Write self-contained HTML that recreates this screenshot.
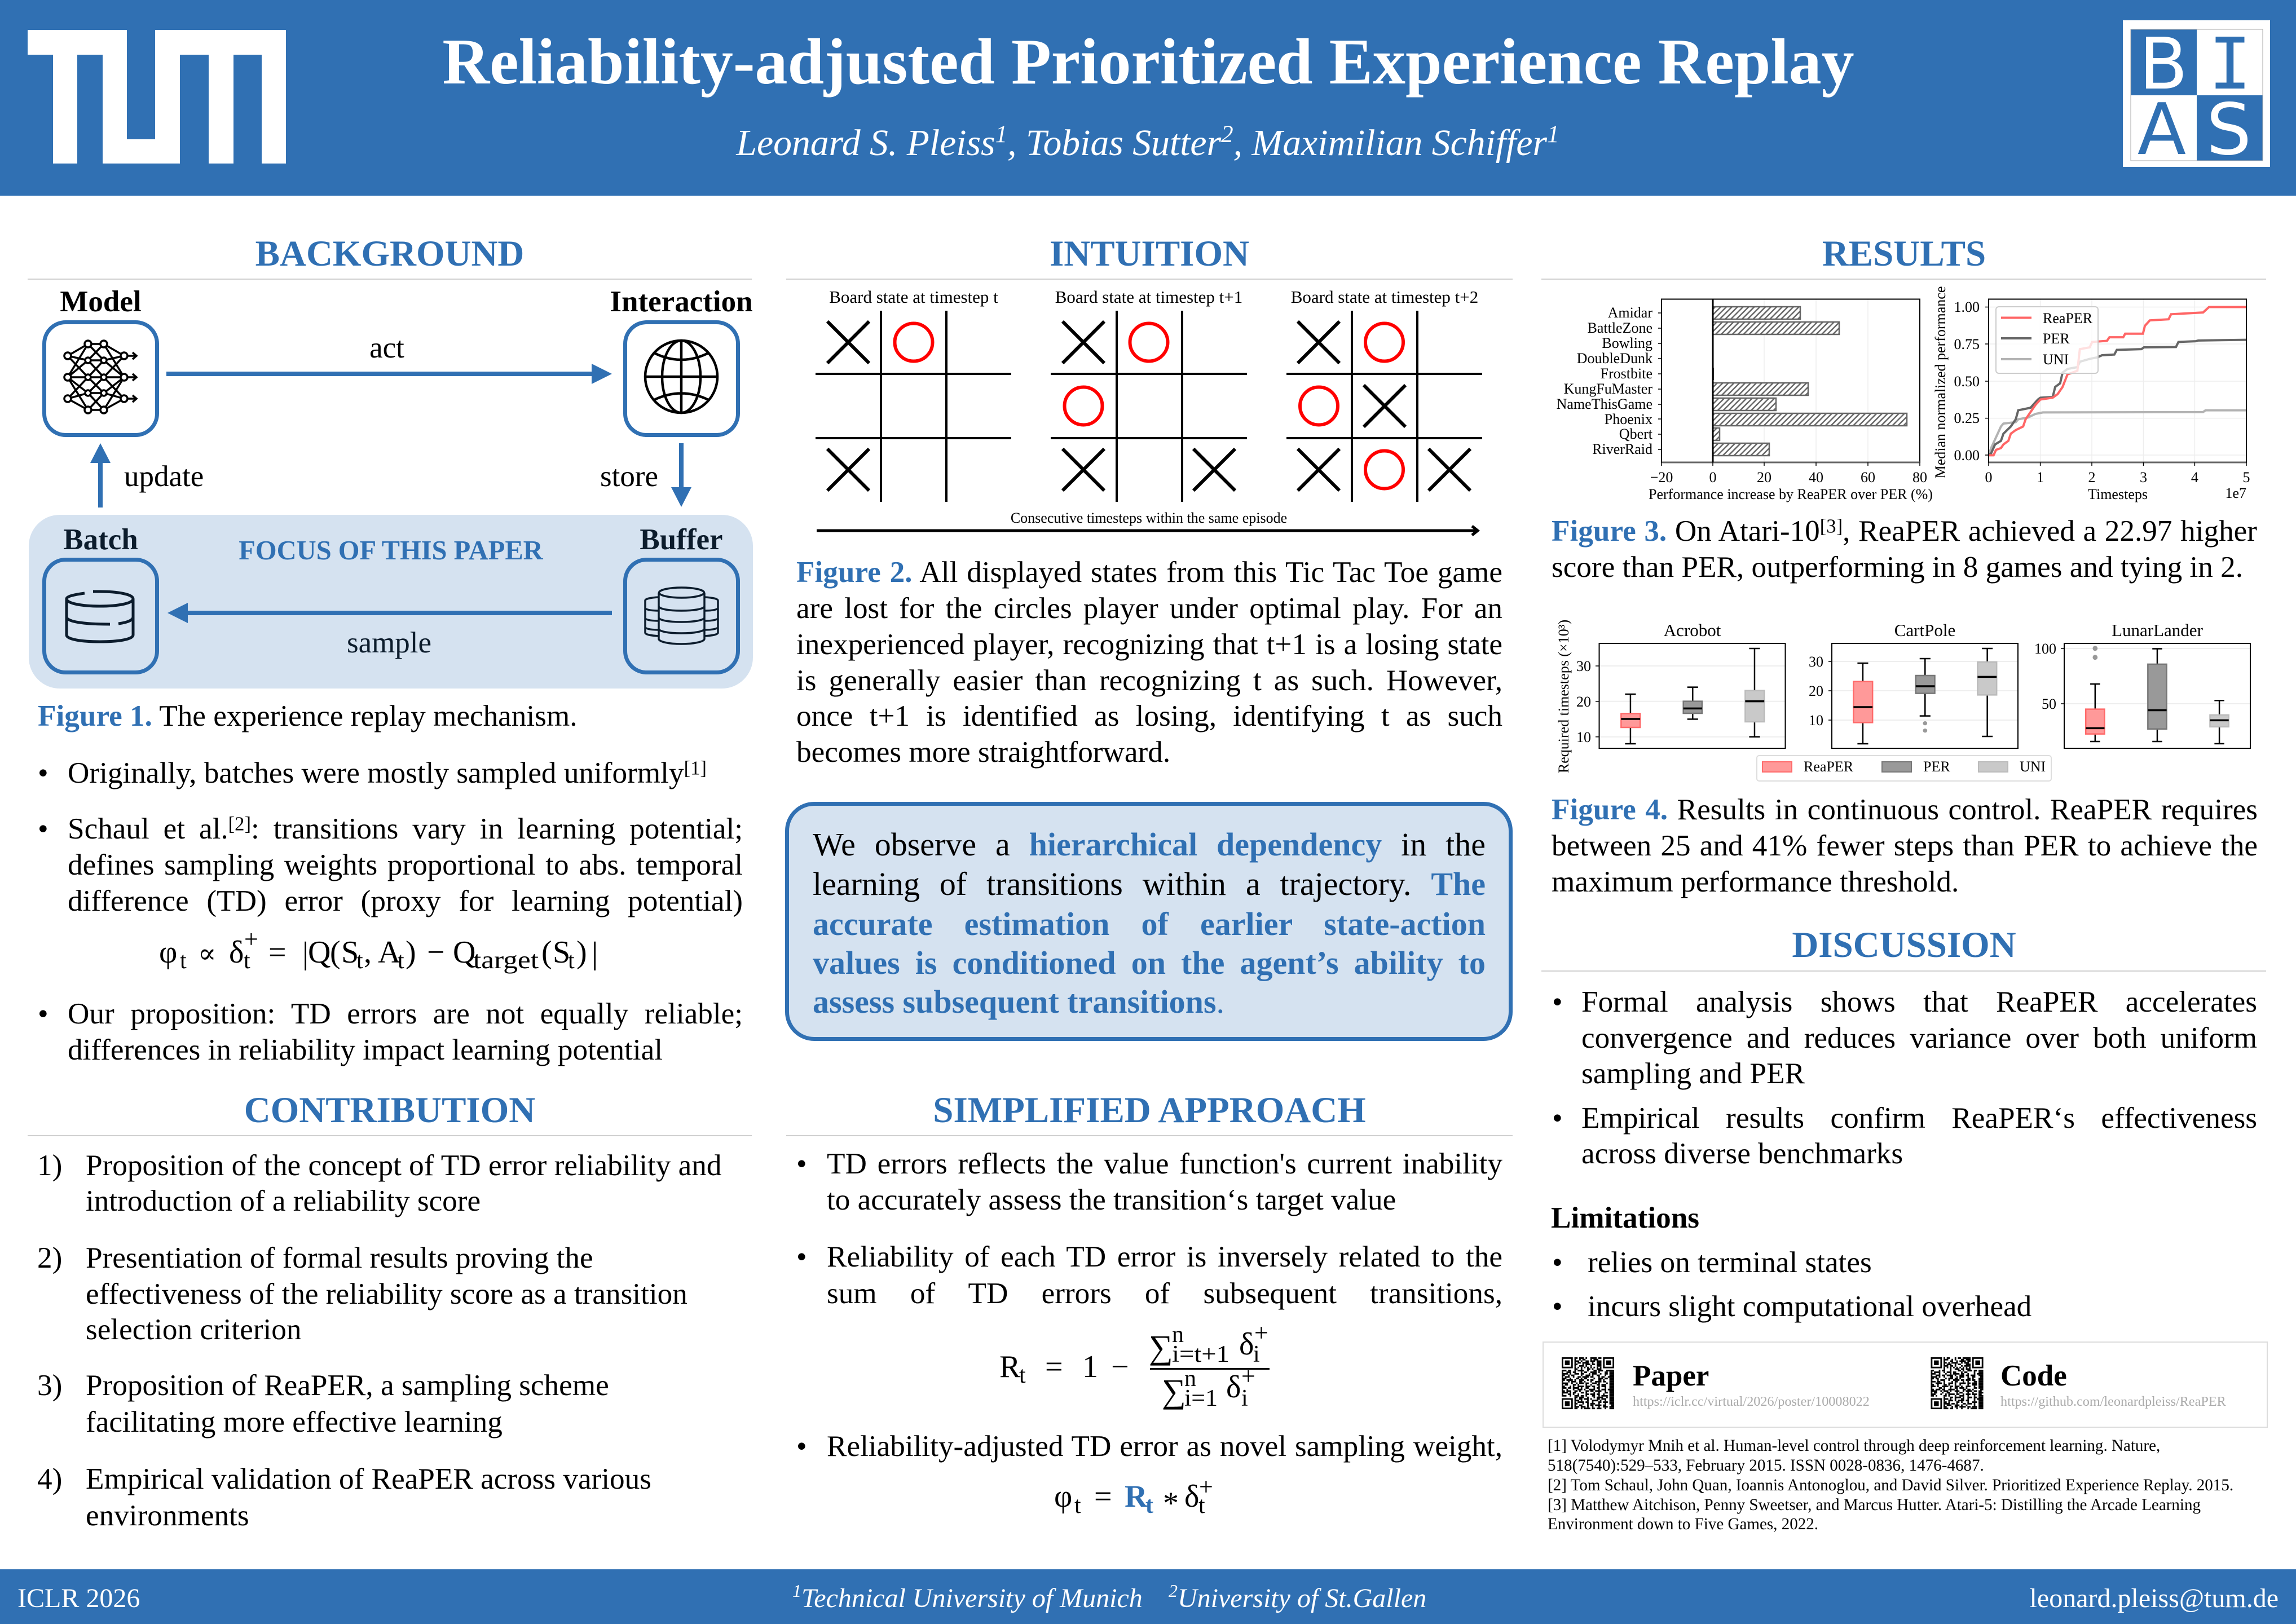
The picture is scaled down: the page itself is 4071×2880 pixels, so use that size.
<!DOCTYPE html>
<html><head><meta charset="utf-8"><title>Reliability-adjusted Prioritized Experience Replay</title>
<style>
html,body{margin:0;padding:0;background:#fff}
#p{position:relative;width:4071px;height:2880px;overflow:hidden;background:#fff;font-family:"Liberation Serif",serif;color:#000}
svg{position:absolute;left:0;top:0}
svg text{font-family:"Liberation Serif",serif}
.t{position:absolute;font-size:53.2px;line-height:64px;height:64px;white-space:nowrap;margin-top:2.5px}
.j{white-space:normal;text-align:justify;text-align-last:justify}
.c{font-size:58px;line-height:70px;height:70px}
b.u,.u{color:#3070B3;font-weight:bold}
sup{font-size:.65em;line-height:0;vertical-align:.42em}
.v{vector-effect:non-scaling-stroke}
</style></head><body><div id="p">
<svg width="4071" height="2880" viewBox="0 0 4071 2880" xmlns="http://www.w3.org/2000/svg">
<defs>
<pattern id="h" width="7" height="7" patternUnits="userSpaceOnUse" patternTransform="rotate(45)"><rect width="7" height="7" fill="#fff"/><rect width="2.500" height="7" fill="#666"/></pattern>
</defs>
<!-- header / footer -->
<rect x="0" y="0" width="4071" height="347" fill="#3070B3"/>
<rect x="0" y="2783" width="4071" height="97" fill="#3070B3"/>
<path fill="#fff" d="M49 53H225V247H275V53H507V290H464V97H414V290H370V97H319V290H182V97H137V290H94V97H49Z"/>
<rect x="3764" y="36" width="261" height="260" fill="#fff"/>
<rect x="3778" y="52" width="117" height="117" fill="#3070B3"/>
<rect x="3895" y="169" width="117" height="116" fill="#3070B3"/>
<rect x="3778" y="52" width="234" height="233" fill="none" stroke="#aaa" stroke-width="1"/>
<g style="font-size:126px" text-anchor="middle">
<text x="3836" y="157" fill="#fff" style="font-family:'DejaVu Sans',sans-serif">B</text>
<text x="3954" y="157" fill="#3070B3" style="font-family:'DejaVu Sans Mono',monospace">I</text>
<text x="3833" y="273" fill="#3070B3" style="font-family:'DejaVu Sans',sans-serif">A</text>
<text x="3952" y="273" fill="#fff" style="font-family:'DejaVu Sans',sans-serif">S</text>
</g>
<text x="2036" y="148" text-anchor="middle" font-size="116" font-weight="bold" fill="#fff">Reliability-adjusted Prioritized Experience Replay</text>
<text x="2035" y="275" text-anchor="middle" font-size="65.700" font-style="italic" fill="#fff">Leonard S. Pleiss<tspan font-size="43" dy="-23">1</tspan><tspan dy="23">, Tobias Sutter</tspan><tspan font-size="43" dy="-23">2</tspan><tspan dy="23">, Maximilian Schiffer</tspan><tspan font-size="43" dy="-23">1</tspan></text>
<text x="31" y="2850" font-size="48" fill="#fff">ICLR 2026</text>
<text x="4040" y="2850" font-size="48" fill="#fff" text-anchor="end">leonard.pleiss@tum.de</text>
<text x="1405" y="2850" font-size="48" font-style="italic" fill="#fff"><tspan font-size="32" dy="-18">1</tspan><tspan dy="18">Technical University of Munich</tspan><tspan x="2072" font-size="32" dy="-18">2</tspan><tspan dy="18">University of St.Gallen</tspan></text>

<!-- headings -->
<g font-size="65" font-weight="bold" fill="#3070B3" text-anchor="middle">
<text x="691" y="471">BACKGROUND</text>
<text x="2038" y="471">INTUITION</text>
<text x="3376" y="471">RESULTS</text>
<text x="691" y="1990">CONTRIBUTION</text>
<text x="2038" y="1990">SIMPLIFIED APPROACH</text>
<text x="3376" y="1697">DISCUSSION</text>
</g>
<g fill="#d0d0d0">
<rect x="49" y="494" width="1284" height="2"/><rect x="1394" y="494" width="1288" height="2"/><rect x="2733" y="494" width="1285" height="2"/>
<rect x="49" y="2013" width="1284" height="2"/><rect x="1394" y="2013" width="1288" height="2"/><rect x="2733" y="1721" width="1285" height="2"/>
</g>

<!-- Figure 1 -->
<rect x="51" y="913" width="1284" height="308" rx="55" fill="#D5E2F0"/>
<g fill="none" stroke="#3070B3" stroke-width="7">
<rect x="78.5" y="571.5" width="200" height="200" rx="38"/>
<rect x="1108.5" y="571.5" width="200" height="200" rx="38"/>
<rect x="78.5" y="992.5" width="200" height="200" rx="38"/>
<rect x="1108.5" y="992.5" width="200" height="200" rx="38"/>
</g>
<g fill="#3070B3">
<rect x="295" y="659" width="756" height="8"/><path d="M1049 645L1085 663L1049 681Z"/>
<rect x="174" y="820" width="8" height="80"/><path d="M160 821L178 786L196 821Z"/>
<rect x="1204" y="786" width="8" height="80"/><path d="M1190 864L1208 899L1226 864Z"/>
<rect x="331" y="1083" width="754" height="8"/><path d="M333 1069L297 1087L333 1105Z"/>
</g>
<g font-size="53" font-weight="bold" text-anchor="middle">
<text x="178.5" y="552">Model</text><text x="1208" y="552">Interaction</text>
<text x="178.5" y="974" fill="#0c1c2c">Batch</text><text x="1208" y="974" fill="#0c1c2c">Buffer</text>
</g>
<text x="693" y="992" font-size="48.500" font-weight="bold" fill="#3070B3" text-anchor="middle">FOCUS OF THIS PAPER</text>
<g font-size="53">
<text x="686" y="634" text-anchor="middle">act</text>
<text x="220" y="862">update</text>
<text x="1064" y="862">store</text>
<text x="690" y="1157" text-anchor="middle" fill="#0c1c2c">sample</text>
</g>
<!-- NN icon -->
<g stroke="#000" stroke-width="3.5" fill="none">
<path d="M120 631L156 610M120 631L156 639M120 631L156 669M120 669L156 610M120 669L156 639M120 669H220M120 669L156 697M120 669L156 727M120 707L156 669M120 707L156 697M120 707L156 727M156 610H184M156 610L184 639M156 639L184 610M156 639H184M156 639L184 669M156 669L184 639M156 669L184 697M156 697L184 669M156 697H184M156 697L184 727M156 727L184 697M156 727H184M220 631L184 610M220 631L184 639M220 631L184 669M220 669L184 610M220 669L184 639M220 669L184 697M220 669L184 727M220 707L184 669M220 707L184 697M220 707L184 727M220 631H241M220 669H241M220 707H241M235 625L242 631L235 637M235 663L242 669L235 675M235 701L242 707L235 713"/>
<g fill="#fff">
<circle cx="120" cy="631" r="6"/><circle cx="120" cy="669" r="6"/><circle cx="120" cy="707" r="6"/>
<circle cx="156" cy="610" r="6"/><circle cx="156" cy="639" r="5"/><circle cx="156" cy="669" r="5"/><circle cx="156" cy="697" r="5"/><circle cx="156" cy="727" r="6"/>
<circle cx="184" cy="610" r="6"/><circle cx="184" cy="639" r="5"/><circle cx="184" cy="669" r="5"/><circle cx="184" cy="697" r="5"/><circle cx="184" cy="727" r="6"/>
<circle cx="220" cy="631" r="6"/><circle cx="220" cy="669" r="6"/><circle cx="220" cy="707" r="6"/>
</g></g>
<!-- globe -->
<g stroke="#000" stroke-width="4.5" fill="none">
<circle cx="1208" cy="668" r="64"/><ellipse cx="1208" cy="668" rx="34" ry="64"/>
<path d="M1208 604V732M1144 668H1272M1160 626Q1208 650 1256 626M1160 709Q1208 686 1256 709"/>
</g>
<!-- batch DB -->
<g stroke="#0c1c2c" stroke-width="5" fill="none">
<path d="M150 1052C128 1055 118 1058 118 1062C118 1070 145 1075 177 1075C209 1075 236 1070 236 1062C236 1054 209 1049 177 1049H165"/>
<path d="M118 1062V1126C118 1134 145 1138 177 1138C209 1138 236 1134 236 1126V1062"/>
<path d="M118 1094C118 1102 145 1107 195 1107M210 1106C225 1104 236 1100 236 1094"/>
</g>
<!-- buffer DB -->
<g stroke="#0c1c2c" stroke-width="3.5" fill="none">
<ellipse cx="1208.500" cy="1051" rx="40" ry="9"/>
<path d="M1168 1051V1133C1168 1138 1186 1142 1208 1142C1230 1142 1249 1138 1249 1133V1051M1168 1075C1168 1080 1186 1083 1208 1083C1230 1083 1249 1080 1249 1075M1168 1095C1168 1100 1186 1103 1208 1103C1230 1103 1249 1100 1249 1095M1168 1115C1168 1120 1186 1123 1208 1123C1230 1123 1249 1120 1249 1115"/>
<path d="M1168 1059C1152 1060 1144 1062 1144 1065V1122C1144 1125 1152 1127 1168 1128M1249 1059C1265 1060 1273 1062 1273 1065V1122C1273 1125 1265 1127 1249 1128M1144 1079C1148 1082 1158 1083 1168 1083M1144 1097C1148 1100 1158 1101 1168 1101M1144 1113C1148 1116 1158 1117 1168 1117M1273 1079C1269 1082 1259 1083 1249 1083M1273 1097C1269 1100 1259 1101 1249 1101M1273 1113C1269 1116 1259 1117 1249 1117"/>
</g>

<!-- Figure 2 boards -->
<g font-size="31" text-anchor="middle">
<text x="1620" y="537">Board state at timestep t</text>
<text x="2037" y="537">Board state at timestep t+1</text>
<text x="2455" y="537">Board state at timestep t+2</text>
</g>
<g stroke="#000" stroke-width="4" fill="none">
<path d="M1562 551V890M1678 551V890M1446 663H1793M1446 777H1793"/>
<path d="M1980 551V890M2096 551V890M1863 663H2211M1863 777H2211"/>
<path d="M2397 551V890M2513 551V890M2281 663H2628M2281 777H2628"/>
</g>
<g stroke="#000" stroke-width="6" fill="none">
<path d="M1467 570L1541 644M1541 570L1467 644"/>
<path d="M1467 796L1541 870M1541 796L1467 870"/>
<path d="M1884 570L1958 644M1958 570L1884 644"/>
<path d="M1884 796L1958 870M1958 796L1884 870"/>
<path d="M2116 796L2190 870M2190 796L2116 870"/>
<path d="M2301 570L2375 644M2375 570L2301 644"/>
<path d="M2418 683L2492 757M2492 683L2418 757"/>
<path d="M2301 796L2375 870M2375 796L2301 870"/>
<path d="M2533 796L2607 870M2607 796L2533 870"/>
</g>
<g stroke="#f00" stroke-width="6" fill="none">
<circle cx="1620" cy="607" r="33.500"/>
<circle cx="2037" cy="607" r="33.500"/><circle cx="1921" cy="720" r="33.500"/>
<circle cx="2454.500" cy="607" r="33.500"/><circle cx="2338.500" cy="720" r="33.500"/><circle cx="2454.500" cy="833" r="33.500"/>
</g>
<text x="2037" y="927" font-size="26" text-anchor="middle">Consecutive timesteps within the same episode</text>
<path d="M1448 941H2618M2610 933L2620 941L2610 949" stroke="#000" stroke-width="5" fill="none"/>

<!-- Callout -->
<rect x="1395.500" y="1425.500" width="1283" height="417" rx="48" fill="#D5E2F0" stroke="#3070B3" stroke-width="7"/>

<!-- Formula 1 -->
<g font-size="56">
<text x="282" y="1707">φ</text><text x="319" y="1717" font-size="42">t</text>
<text x="351" y="1707" style="font-family:'DejaVu Serif',serif" font-size="48">∝</text>
<text x="406" y="1707">δ</text><text x="433" y="1680" font-size="44">+</text><text x="432" y="1717" font-size="42">t</text>
<text x="476" y="1707">=</text><text x="536" y="1709">|</text><text x="546" y="1707">Q</text><text x="585" y="1707">(</text><text x="605" y="1707">S</text>
<text x="632" y="1717" font-size="42">t</text><text x="645" y="1707">,</text><text x="670" y="1707">A</text><text x="705" y="1717" font-size="42">t</text><text x="719" y="1707">)</text>
<text x="757" y="1707">−</text><text x="803" y="1707">Q</text><text x="839" y="1717" font-size="44" textLength="116" lengthAdjust="spacingAndGlyphs">target</text>
<text x="960" y="1707">(</text><text x="980" y="1707">S</text><text x="1007" y="1717" font-size="42">t</text><text x="1022" y="1707">)</text><text x="1049" y="1709">|</text>
</g>
<!-- Formula 2 -->
<g font-size="56">
<text x="1772" y="2442">R</text><text x="1807" y="2452" font-size="42">t</text><text x="1853" y="2442">=</text><text x="1919" y="2442">1</text><text x="1970" y="2442">−</text>
<text x="2037" y="2409" font-size="60">∑</text><text x="2078" y="2380" font-size="42">n</text><text x="2078" y="2415" font-size="42" textLength="102" lengthAdjust="spacingAndGlyphs">i=t+1</text>
<text x="2197" y="2402">δ</text><text x="2224" y="2378" font-size="44">+</text><text x="2222" y="2415" font-size="42">i</text>
<rect x="2039" y="2426" width="212" height="3"/>
<text x="2060" y="2487" font-size="60">∑</text><text x="2100" y="2458" font-size="42">n</text><text x="2100" y="2493" font-size="42" textLength="59" lengthAdjust="spacingAndGlyphs">i=1</text>
<text x="2174" y="2478">δ</text><text x="2201" y="2455" font-size="44">+</text><text x="2201" y="2493" font-size="42">i</text>
</g>
<!-- Formula 3 -->
<g font-size="56">
<text x="1869" y="2672">φ</text><text x="1905" y="2683" font-size="42">t</text><text x="1940" y="2672">=</text>
<text x="1994" y="2672" font-weight="bold" fill="#3070B3">R</text><text x="2031" y="2683" font-size="42" font-weight="bold" fill="#3070B3">t</text>
<text x="2062" y="2684">*</text><text x="2100" y="2672">δ</text><text x="2126" y="2651" font-size="44">+</text><text x="2125" y="2683" font-size="42">t</text>
</g>

<!-- Bar chart -->
<g stroke="#eee" stroke-width="1.500"><path d="M3128 530V820M3220 530V820M3312 530V820"/></g>
<g stroke="#666" stroke-width="2.500" fill="url(#h)">
<rect x="3037" y="544" width="155" height="22"/><rect x="3037" y="571" width="224" height="22"/>
<rect x="3037" y="679" width="169" height="22"/><rect x="3037" y="706" width="112" height="22"/>
<rect x="3037" y="733" width="344" height="22"/><rect x="3037" y="759" width="12" height="22"/><rect x="3037" y="786" width="100" height="22"/>
</g>
<rect x="3037" y="652" width="2" height="22" fill="#555"/>
<rect x="2946" y="530.500" width="458" height="289.500" fill="none" stroke="#000" stroke-width="2"/>
<path d="M2946 820H3404" stroke="#666" stroke-width="3"/>
<path d="M3037 530V820" stroke="#000" stroke-width="3"/>
<g stroke="#000" stroke-width="1.500"><path d="M2940 555H2946M2940 582H2946M2940 609H2946M2940 636H2946M2940 663H2946M2940 690H2946M2940 717H2946M2940 743H2946M2940 770H2946M2940 797H2946M2946 820V826M3037 820V826M3128 820V826M3220 820V826M3312 820V826M3404 820V826"/></g>
<g font-size="26" text-anchor="end">
<text x="2930" y="563">Amidar</text><text x="2930" y="590">BattleZone</text><text x="2930" y="617">Bowling</text><text x="2930" y="644">DoubleDunk</text><text x="2930" y="671">Frostbite</text>
<text x="2930" y="698">KungFuMaster</text><text x="2930" y="725">NameThisGame</text><text x="2930" y="752">Phoenix</text><text x="2930" y="778">Qbert</text><text x="2930" y="805">RiverRaid</text>
</g>
<g font-size="26" text-anchor="middle">
<text x="2946" y="855">−20</text><text x="3037" y="855">0</text><text x="3128" y="855">20</text><text x="3220" y="855">40</text><text x="3312" y="855">60</text><text x="3404" y="855">80</text>
<text x="3175" y="885">Performance increase by ReaPER over PER (%)</text>
</g>

<!-- Line chart -->
<g stroke="#eee" stroke-width="1.500"><path d="M3617.600 530V820M3709 530V820M3800.500 530V820M3891.400 530V820M3526 544.500H3983M3526 610H3983M3526 676H3983M3526 741.600H3983M3526 807H3983"/></g>
<g transform="translate(2700,380) scale(.8741,.6378)" fill="none" stroke-width="4">
<polyline class="v" stroke="#b3b3b3" points="945,670 950,650 960,620 970,590 975,582 1000,578 1005,570 1025,565 1040,555 1055,551 1380,550 1385,545 1468,545"/>
<polyline class="v" stroke="#666" points="945,670 950,665 958,640 970,630 975,610 990,590 1000,570 1005,545 1030,538 1045,515 1050,510 1075,508 1080,480 1090,470 1095,440 1105,430 1125,425 1130,410 1150,402 1165,398 1175,392 1200,390 1205,377 1255,375 1260,370 1325,369 1330,355 1365,353 1370,351 1468,349"/>
<polyline class="v" stroke="#ff6666" points="945,670 955,670 960,655 970,650 975,640 985,630 990,610 1000,600 1015,590 1020,570 1030,550 1040,530 1050,515 1075,510 1085,500 1095,480 1105,445 1125,435 1130,375 1150,370 1155,355 1185,352 1190,342 1218,342 1222,332 1258,332 1262,310 1272,295 1310,292 1315,278 1380,273 1392,258 1468,258"/>
</g>
<rect x="3539" y="544" width="181" height="118" rx="5" fill="#fff" fill-opacity=".8" stroke="#ccc" stroke-width="2"/>
<path d="M3548 563.500H3602" stroke="#ff6666" stroke-width="4"/><path d="M3548 600H3602" stroke="#666" stroke-width="4"/><path d="M3548 637H3602" stroke="#b3b3b3" stroke-width="4"/>
<g font-size="26"><text x="3622" y="573">ReaPER</text><text x="3622" y="609">PER</text><text x="3622" y="646">UNI</text></g>
<rect x="3526" y="530.500" width="457" height="289.500" fill="none" stroke="#000" stroke-width="2"/>
<path d="M3526 820H3983" stroke="#666" stroke-width="3"/>
<g stroke="#000" stroke-width="1.500"><path d="M3520 544.500H3526M3520 610H3526M3520 676H3526M3520 741.600H3526M3520 807H3526M3526 820V826M3617.600 820V826M3709 820V826M3800.500 820V826M3891.400 820V826M3983 820V826"/></g>
<g font-size="26" text-anchor="end"><text x="3510" y="553">1.00</text><text x="3510" y="619">0.75</text><text x="3510" y="685">0.50</text><text x="3510" y="750">0.25</text><text x="3510" y="816">0.00</text></g>
<g font-size="26" text-anchor="middle">
<text x="3526" y="855">0</text><text x="3617.600" y="855">1</text><text x="3709" y="855">2</text><text x="3800.500" y="855">3</text><text x="3891.400" y="855">4</text><text x="3983" y="855">5</text>
<text x="3755" y="885">Timesteps</text>
</g>
<text x="3983" y="883" font-size="26" text-anchor="end">1e7</text>
<text transform="translate(3449,678) rotate(-90)" font-size="26" text-anchor="middle">Median normalized performance</text>

<!-- Box plots -->
<g font-size="31" text-anchor="middle"><text x="3000.600" y="1128">Acrobot</text><text x="3413" y="1128">CartPole</text><text x="3825" y="1128">LunarLander</text></g>
<g stroke="#eee" stroke-width="2"><path d="M2835 1181H3166M2835 1243.700H3166M2835 1306.700H3166M3248 1173H3578M3248 1225H3578M3248 1277H3578M3660 1150H3990M3660 1248H3990"/></g>
<g transform="translate(2720,1080) scale(.6378,.3333)" fill="none" stroke="#000" stroke-width="2.500">
<!-- Acrobot -->
<path class="v" d="M268 453V717M253 453H283M253 717H283"/><rect class="v" x="242" y="556" width="53" height="74" fill="#ff9999" stroke="#ff6b6b"/><path class="v" stroke-width="3.500" d="M242 585H295"/>
<path class="v" d="M441 416V586M426 416H456M426 586H456"/><rect class="v" x="415" y="491" width="52" height="64" fill="#999" stroke="#777"/><path class="v" stroke-width="3.500" d="M415 529H467"/>
<path class="v" d="M613 210V680M598 210H628M598 680H628"/><rect class="v" x="587" y="434" width="53" height="166" fill="#c9c9c9" stroke="#bbb"/><path class="v" stroke-width="3.500" d="M587 491H640"/>
<!-- CartPole -->
<path class="v" d="M914 288V717M899 288H929M899 717H929"/><rect class="v" x="888" y="386" width="53" height="218" fill="#ff9999" stroke="#ff6b6b"/><path class="v" stroke-width="3.500" d="M888 522H941"/>
<path class="v" d="M1087 264V569M1072 264H1102M1072 569H1102"/><rect class="v" x="1061" y="354" width="53" height="95" fill="#999" stroke="#777"/><path class="v" stroke-width="3.500" d="M1061 411H1114"/>
<path class="v" d="M1260 210V678M1245 210H1275M1245 678H1275"/><rect class="v" x="1233" y="282" width="53" height="175" fill="#c9c9c9" stroke="#bbb"/><path class="v" stroke-width="3.500" d="M1233 361H1286"/>
<ellipse cx="1087" cy="608" rx="6" ry="11" fill="#999" stroke="none"/><ellipse cx="1087" cy="647" rx="6" ry="11" fill="#999" stroke="none"/>
</g>
<g transform="translate(2700,380) scale(.8741,.6378)" fill="none" stroke="#000" stroke-width="2.500">
<path class="v" d="M1161 1306V1466M1151 1306H1171M1151 1466H1171"/><rect class="v" x="1142" y="1376" width="38" height="69" fill="#ff9999" stroke="#ff6b6b"/><path class="v" stroke-width="3.500" d="M1142 1429H1180"/>
<path class="v" d="M1287 1208V1466M1277 1208H1297M1277 1466H1297"/><rect class="v" x="1268" y="1251" width="38" height="180" fill="#999" stroke="#777"/><path class="v" stroke-width="3.500" d="M1268 1379H1306"/>
<path class="v" d="M1413 1352V1472M1403 1352H1423M1403 1472H1423"/><rect class="v" x="1394" y="1392" width="38" height="33" fill="#c9c9c9" stroke="#bbb"/><path class="v" stroke-width="3.500" d="M1394 1407H1432"/>
<ellipse cx="1161" cy="1207" rx="5" ry="7" fill="#999" stroke="none"/><ellipse cx="1161" cy="1232" rx="5" ry="7" fill="#999" stroke="none"/>
</g>
<g fill="none" stroke="#000" stroke-width="2"><rect x="2835.500" y="1141" width="330" height="186"/><rect x="3248" y="1141" width="330" height="186"/><rect x="3660" y="1141" width="330" height="186"/></g>
<g stroke="#000" stroke-width="1.500"><path d="M2829 1181H2835M2829 1243.700H2835M2829 1306.700H2835M3242 1173H3248M3242 1225H3248M3242 1277H3248M3654 1150H3660M3654 1248H3660"/></g>
<g font-size="26" text-anchor="end"><text x="2821" y="1190">30</text><text x="2821" y="1253">20</text><text x="2821" y="1316">10</text><text x="3233" y="1182">30</text><text x="3233" y="1234">20</text><text x="3233" y="1286">10</text><text x="3646" y="1159">100</text><text x="3646" y="1257">50</text></g>
<rect x="3115" y="1340" width="522" height="45" rx="4" fill="#fff" stroke="#ddd" stroke-width="2"/>
<rect x="3125" y="1351" width="52" height="18" fill="#ff9999" stroke="#ff6b6b" stroke-width="2"/><rect x="3337" y="1351" width="52" height="18" fill="#999" stroke="#777" stroke-width="2"/><rect x="3508" y="1351" width="52" height="18" fill="#c9c9c9" stroke="#bbb" stroke-width="2"/>
<g font-size="26"><text x="3198" y="1368">ReaPER</text><text x="3410" y="1368">PER</text><text x="3581" y="1368">UNI</text></g>
<text transform="translate(2781,1235) rotate(-90)" font-size="26" text-anchor="middle">Required timesteps (×10³)</text>

<!-- QR box -->
<rect x="2736" y="2380" width="1284" height="151" fill="#fff" stroke="#ddd" stroke-width="2"/>
<g id="q" transform="translate(2769,2407) scale(2.82,2.79)" stroke="#000" stroke-width="1.020" fill="none">
<path class="v2" d="M8 .5H25" stroke-dasharray="2 1 3 1 1 2 4 1 2"/><path d="M8 1.500H25" stroke-dasharray="1 2 1 1 2 3 1 1 3 2"/><path d="M8 2.500H25" stroke-dasharray="3 1 1 2 2 1 3 1 3"/><path d="M8 3.500H25" stroke-dasharray="1 1 2 1 4 2 1 2 3"/><path d="M8 4.500H25" stroke-dasharray="2 3 1 1 3 1 2 1 3"/><path d="M8 5.500H25" stroke-dasharray="1 2 3 1 1 2 1 3 3"/><path d="M8 6.500H25" stroke-dasharray="1 1 1 1 1 1 1 1 1 1 1 1 1 1 1 1 1"/><path d="M8 7.500H25" stroke-dasharray="2 2 1 3 2 1 1 2 3"/>
<path d="M0 8.500H33" stroke-dasharray="3 1 2 2 1 1 4 2 1 3 2 1 3 2 5"/><path d="M0 9.500H33" stroke-dasharray="1 2 3 1 2 3 1 1 2 2 4 1 1 3 2 1 3"/><path d="M0 10.500H33" stroke-dasharray="4 1 1 2 3 1 2 3 1 1 3 2 1 2 2 1 3"/><path d="M0 11.500H33" stroke-dasharray="2 2 1 1 2 4 1 2 3 1 1 2 2 3 1 2 3"/><path d="M0 12.500H33" stroke-dasharray="1 1 3 2 1 2 2 1 4 1 2 3 1 1 2 2 4"/><path d="M0 13.500H33" stroke-dasharray="3 2 1 3 2 1 1 1 2 4 1 2 3 1 2 1 3"/><path d="M0 14.500H33" stroke-dasharray="2 1 4 1 1 2 3 2 1 1 2 3 2 1 1 3 3"/><path d="M0 15.500H33" stroke-dasharray="1 3 1 1 3 2 2 1 1 3 1 2 4 1 2 2 3"/><path d="M0 16.500H33" stroke-dasharray="4 2 1 2 1 1 3 1 2 2 3 1 1 4 1 1 3"/><path d="M0 17.500H33" stroke-dasharray="1 1 2 3 2 1 1 4 1 2 1 3 2 1 3 2 3"/><path d="M0 18.500H33" stroke-dasharray="2 3 1 1 1 2 4 1 3 1 2 2 1 1 3 2 3"/><path d="M0 19.500H33" stroke-dasharray="3 1 2 1 4 1 1 2 2 3 1 1 2 3 1 2 3"/><path d="M0 20.500H33" stroke-dasharray="1 2 1 3 1 2 3 1 1 2 4 2 1 1 3 1 4"/><path d="M0 21.500H33" stroke-dasharray="2 1 3 2 2 1 1 3 2 1 2 1 4 2 1 2 3"/><path d="M0 22.500H33" stroke-dasharray="4 1 1 1 2 3 2 1 1 4 1 2 1 3 2 1 3"/><path d="M0 23.500H33" stroke-dasharray="1 3 2 1 1 2 1 4 2 1 3 1 2 2 1 3 3"/><path d="M0 24.500H33" stroke-dasharray="3 2 1 2 3 1 2 1 1 3 2 2 1 1 4 1 3"/>
<path d="M8 25.500H33" stroke-dasharray="2 1 3 2 1 3 1 1 4 2 1 1 3"/><path d="M8 26.500H33" stroke-dasharray="1 2 2 1 3 1 1 3 2 1 3 2 3"/><path d="M8 27.500H33" stroke-dasharray="3 1 1 3 1 2 4 1 1 2 1 2 3"/><path d="M8 28.500H33" stroke-dasharray="1 1 4 1 2 2 1 3 2 1 3 1 3"/><path d="M8 29.500H33" stroke-dasharray="2 3 1 2 1 1 3 2 1 3 1 2 3"/><path d="M8 30.500H33" stroke-dasharray="1 2 2 3 1 1 2 1 4 1 2 3 2"/><path d="M8 31.500H33" stroke-dasharray="3 1 3 1 1 2 1 3 1 2 3 1 3"/><path d="M8 32.500H33" stroke-dasharray="2 2 1 1 4 1 2 1 3 2 1 2 3"/>
<g stroke-width="1"><rect x=".5" y=".5" width="6" height="6"/><rect x="26.500" y=".5" width="6" height="6"/><rect x=".5" y="26.500" width="6" height="6"/></g>
<g fill="#000" stroke="none"><rect x="2" y="2" width="3" height="3"/><rect x="28" y="2" width="3" height="3"/><rect x="2" y="28" width="3" height="3"/></g>
</g>
<g transform="translate(3423.500,2407) scale(2.82,2.79)" stroke="#000" stroke-width="1.020" fill="none">
<path d="M8 .5H25" stroke-dasharray="1 1 2 3 1 1 2 1 5"/><path d="M8 1.500H25" stroke-dasharray="3 2 1 1 1 3 2 1 3"/><path d="M8 2.500H25" stroke-dasharray="1 3 2 2 1 1 4 1 2"/><path d="M8 3.500H25" stroke-dasharray="2 1 1 1 4 2 1 1 3"/><path d="M8 4.500H25" stroke-dasharray="1 1 3 2 1 1 2 3 3"/><path d="M8 5.500H25" stroke-dasharray="3 1 2 1 1 3 1 1 4"/><path d="M8 6.500H25" stroke-dasharray="1 1 1 1 1 1 1 1 1 1 1 1 1 1 1 1 1"/><path d="M8 7.500H25" stroke-dasharray="1 3 1 2 3 1 2 1 3"/>
<path d="M0 8.500H33" stroke-dasharray="2 3 1 1 2 3 1 4 2 1 1 2 3 1 2 1 3"/><path d="M0 9.500H33" stroke-dasharray="1 1 4 2 1 1 3 1 2 3 1 1 2 4 1 2 3"/><path d="M0 10.500H33" stroke-dasharray="3 2 1 3 1 2 1 1 4 1 2 2 1 3 1 1 4"/><path d="M0 11.500H33" stroke-dasharray="1 2 3 1 2 1 4 1 1 2 3 1 2 1 3 2 3"/><path d="M0 12.500H33" stroke-dasharray="4 1 1 2 1 3 2 2 1 1 3 2 1 2 2 3 2"/><path d="M0 13.500H33" stroke-dasharray="2 1 2 4 1 1 3 1 2 1 1 4 2 1 1 3 3"/><path d="M0 14.500H33" stroke-dasharray="1 3 1 1 3 2 1 2 4 1 2 1 3 1 2 2 3"/><path d="M0 15.500H33" stroke-dasharray="3 1 2 2 1 4 1 1 2 3 1 2 1 3 2 1 3"/><path d="M0 16.500H33" stroke-dasharray="1 2 4 1 1 2 3 1 1 2 4 1 2 1 3 1 3"/><path d="M0 17.500H33" stroke-dasharray="2 2 1 3 2 1 1 3 1 2 1 4 1 2 3 1 3"/><path d="M0 18.500H33" stroke-dasharray="3 1 1 2 4 1 2 1 3 1 1 2 3 2 1 2 3"/><path d="M0 19.500H33" stroke-dasharray="1 4 2 1 1 3 1 2 2 1 3 1 1 4 2 1 3"/><path d="M0 20.500H33" stroke-dasharray="2 1 3 1 2 2 4 1 1 3 2 1 2 1 1 4 2"/><path d="M0 21.500H33" stroke-dasharray="4 2 1 1 3 1 1 2 3 2 1 1 4 1 2 1 2"/><path d="M0 22.500H33" stroke-dasharray="1 1 2 3 1 2 2 4 1 1 2 3 1 2 1 3 3"/><path d="M0 23.500H33" stroke-dasharray="3 3 1 2 1 1 4 1 2 2 1 1 3 1 3 1 2"/><path d="M0 24.500H33" stroke-dasharray="2 1 1 4 2 1 1 3 1 2 3 2 1 3 1 2 3"/>
<path d="M8 25.500H33" stroke-dasharray="1 3 2 1 4 1 1 2 3 1 2 1 3"/><path d="M8 26.500H33" stroke-dasharray="3 1 1 2 1 3 2 2 1 3 1 1 4"/><path d="M8 27.500H33" stroke-dasharray="1 2 3 1 1 1 4 1 2 3 1 2 3"/><path d="M8 28.500H33" stroke-dasharray="2 1 1 4 2 1 1 3 1 2 3 1 3"/><path d="M8 29.500H33" stroke-dasharray="4 1 2 1 1 3 2 1 3 1 1 2 3"/><path d="M8 30.500H33" stroke-dasharray="1 1 3 2 3 1 1 2 1 4 1 2 3"/><path d="M8 31.500H33" stroke-dasharray="2 3 1 1 2 1 4 1 2 1 3 1 3"/><path d="M8 32.500H33" stroke-dasharray="3 1 2 2 1 2 1 3 1 1 4 1 3"/>
<g stroke-width="1"><rect x=".5" y=".5" width="6" height="6"/><rect x="26.500" y=".5" width="6" height="6"/><rect x=".5" y="26.500" width="6" height="6"/></g>
<g fill="#000" stroke="none"><rect x="2" y="2" width="3" height="3"/><rect x="28" y="2" width="3" height="3"/><rect x="2" y="28" width="3" height="3"/></g>
</g>
<g font-size="53" font-weight="bold"><text x="2895" y="2457">Paper</text><text x="3547" y="2457">Code</text></g>
<g font-size="24.200" fill="#aaa"><text x="2895" y="2493">https://iclr.cc/virtual/2026/poster/10008022</text><text x="3547" y="2493">https://github.com/leonardpleiss/ReaPER</text></g>
<g font-size="29.050">
<text x="2744" y="2573">[1] Volodymyr Mnih et al. Human-level control through deep reinforcement learning. Nature,</text>
<text x="2744" y="2608">518(7540):529–533, February 2015. ISSN 0028-0836, 1476-4687.</text>
<text x="2744" y="2643">[2] Tom Schaul, John Quan, Ioannis Antonoglou, and David Silver. Prioritized Experience Replay. 2015.</text>
<text x="2744" y="2678">[3] Matthew Aitchison, Penny Sweetser, and Marcus Hutter. Atari-5: Distilling the Arcade Learning</text>
<text x="2744" y="2712">Environment down to Five Games, 2022.</text>
</g>
</svg>

<!-- Left column text -->
<div class="t" style="left:67px;top:1235px"><b class="u">Figure 1.</b> The experience replay mechanism.</div>
<div class="t" style="left:67px;top:1336px">•</div>
<div class="t" style="left:120px;top:1336px">Originally, batches were mostly sampled uniformly<sup>[1]</sup></div>
<div class="t" style="left:67px;top:1435px">•</div>
<div class="t j" style="left:120px;top:1435px;width:1197px">Schaul et al.<sup>[2]</sup>: transitions vary in learning potential;</div>
<div class="t j" style="left:120px;top:1499px;width:1197px">defines sampling weights proportional to abs. temporal</div>
<div class="t j" style="left:120px;top:1563px;width:1197px">difference (TD) error (proxy for learning potential)</div>
<div class="t" style="left:67px;top:1763px">•</div>
<div class="t j" style="left:120px;top:1763px;width:1197px">Our proposition: TD errors are not equally reliable;</div>
<div class="t" style="left:120px;top:1827px">differences in reliability impact learning potential</div>

<div class="t" style="left:66px;top:2032px">1)</div><div class="t" style="left:152px;top:2032px">Proposition of the concept of TD error reliability and</div>
<div class="t" style="left:152px;top:2095px">introduction of a reliability score</div>
<div class="t" style="left:66px;top:2196px">2)</div><div class="t" style="left:152px;top:2196px">Presentiation of formal results proving the</div>
<div class="t" style="left:152px;top:2260px">effectiveness of the reliability score as a transition</div>
<div class="t" style="left:152px;top:2323px">selection criterion</div>
<div class="t" style="left:66px;top:2422px">3)</div><div class="t" style="left:152px;top:2422px">Proposition of ReaPER, a sampling scheme</div>
<div class="t" style="left:152px;top:2487px">facilitating more effective learning</div>
<div class="t" style="left:66px;top:2588px">4)</div><div class="t" style="left:152px;top:2588px">Empirical validation of ReaPER across various</div>
<div class="t" style="left:152px;top:2653px">environments</div>

<!-- Middle column text -->
<div class="t j" style="left:1412px;top:980px;width:1252px"><b class="u">Figure 2.</b> All displayed states from this Tic Tac Toe game</div>
<div class="t j" style="left:1412px;top:1044px;width:1252px">are lost for the circles player under optimal play. For an</div>
<div class="t j" style="left:1412px;top:1108px;width:1252px">inexperienced player, recognizing that t+1 is a losing state</div>
<div class="t j" style="left:1412px;top:1172px;width:1252px">is generally easier than recognizing t as such. However,</div>
<div class="t j" style="left:1412px;top:1235px;width:1252px">once t+1 is identified as losing, identifying t as such</div>
<div class="t" style="left:1412px;top:1299px">becomes more straightforward.</div>

<div class="t c j" style="left:1441px;top:1460px;width:1193px">We observe a <b class="u">hierarchical dependency</b> in the</div>
<div class="t c j" style="left:1441px;top:1530px;width:1193px">learning of transitions within a trajectory. <b class="u">The</b></div>
<div class="t c j" style="left:1441px;top:1601px;width:1193px"><b class="u">accurate estimation of earlier state-action</b></div>
<div class="t c j" style="left:1441px;top:1670px;width:1193px"><b class="u">values is conditioned on the agent’s ability to</b></div>
<div class="t c" style="left:1441px;top:1739px"><b class="u">assess subsequent transitions</b><span class="u" style="font-weight:normal">.</span></div>

<div class="t" style="left:1412px;top:2029px">•</div>
<div class="t j" style="left:1466px;top:2029px;width:1198px">TD errors reflects the value function's current inability</div>
<div class="t" style="left:1466px;top:2093px">to accurately assess the transition‘s target value</div>
<div class="t" style="left:1412px;top:2194px">•</div>
<div class="t j" style="left:1466px;top:2194px;width:1198px">Reliability of each TD error is inversely related to the</div>
<div class="t j" style="left:1466px;top:2259px;width:1198px">sum of TD errors of subsequent transitions,</div>
<div class="t" style="left:1412px;top:2530px">•</div>
<div class="t j" style="left:1466px;top:2530px;width:1198px">Reliability-adjusted TD error as novel sampling weight,</div>

<!-- Right column text -->
<div class="t j" style="left:2751px;top:907px;width:1251px"><b class="u">Figure 3.</b> On Atari-10<sup>[3]</sup>, ReaPER achieved a 22.97 higher</div>
<div class="t" style="left:2751px;top:971px">score than PER, outperforming in 8 games and tying in 2.</div>
<div class="t j" style="left:2751px;top:1401px;width:1252px"><b class="u">Figure 4.</b> Results in continuous control. ReaPER requires</div>
<div class="t j" style="left:2751px;top:1465px;width:1252px">between 25 and 41% fewer steps than PER to achieve the</div>
<div class="t" style="left:2751px;top:1529px">maximum performance threshold.</div>

<div class="t" style="left:2752px;top:1742px">•</div>
<div class="t j" style="left:2804px;top:1742px;width:1198px">Formal analysis shows that ReaPER accelerates</div>
<div class="t j" style="left:2804px;top:1806px;width:1198px">convergence and reduces variance over both uniform</div>
<div class="t" style="left:2804px;top:1869px">sampling and PER</div>
<div class="t" style="left:2752px;top:1948px">•</div>
<div class="t j" style="left:2804px;top:1948px;width:1198px">Empirical results confirm ReaPER‘s effectiveness</div>
<div class="t" style="left:2804px;top:2011px">across diverse benchmarks</div>
<div class="t" style="left:2750px;top:2125px"><b>Limitations</b></div>
<div class="t" style="left:2752px;top:2204px">•</div>
<div class="t" style="left:2815px;top:2204px">relies on terminal states</div>
<div class="t" style="left:2752px;top:2282px">•</div>
<div class="t" style="left:2815px;top:2282px">incurs slight computational overhead</div>
</div></body></html>
